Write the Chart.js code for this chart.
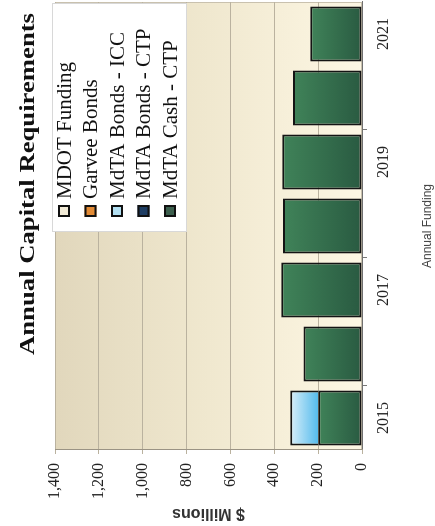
<!DOCTYPE html>
<html>
<head>
<meta charset="utf-8">
<script src="https://cdn.jsdelivr.net/npm/chart.js@4.4.1/dist/chart.umd.min.js"></script>
<style>
  html, body { margin: 0; padding: 0; background: #fff; overflow: hidden; }
  /* the original chart is printed sideways, so the whole canvas is turned a quarter left */
  #wrap {
    position: absolute; left: 0; top: 0;
    width: 526px; height: 435px;
    transform-origin: 0 0;
    transform: translateY(526px) rotate(-90deg);
  }
</style>
</head>
<body>
<div id="wrap"><canvas id="capital-chart" width="526" height="435"></canvas></div>
<script>
// Data ($ millions)
const years = ['2015', '2016', '2017', '2018', '2019', '2020', '2021'];
const mdotFunding  = [0, 0, 0, 0, 0, 0, 0];
const garveeBonds  = [0, 0, 0, 0, 0, 0, 0];
const mdtaBondsIcc = [127, 0, 0, 0, 0, 0, 0];
const mdtaBondsCtp = [0, 0, 0, 0, 0, 0, 0];
const mdtaCashCtp  = [200, 267, 368, 360, 364, 315, 236];
const valueTicks   = [0, 200, 400, 600, 800, 1000, 1200, 1400];

const serif = '"Liberation Serif", "Times New Roman", serif';
const sans = '"Liberation Sans", Arial, sans-serif';

// per-bar gradient, light at the top of the segment and darker at its base
function barFill(light, dark) {
  return (c) => {
    const chart = c.chart;
    const yScale = chart.scales.y;
    if (c.type !== 'data' || !yScale || !chart.chartArea) return dark;
    let base = 0;
    for (let d = 0; d < c.datasetIndex; d++) {
      base += chart.data.datasets[d].data[c.dataIndex] || 0;
    }
    const val = chart.data.datasets[c.datasetIndex].data[c.dataIndex] || 0;
    const y0 = yScale.getPixelForValue(base);
    const y1 = yScale.getPixelForValue(base + val);
    if (!isFinite(y0) || !isFinite(y1) || y0 === y1) return dark;
    const g = chart.ctx.createLinearGradient(0, y1, 0, y0);
    g.addColorStop(0, light);
    g.addColorStop(1, dark);
    return g;
  };
}

const plotBackground = {
  id: 'plotBackground',
  beforeDraw(chart) {
    const { ctx, chartArea: a } = chart;
    const g = ctx.createLinearGradient(0, a.top, 0, a.bottom);
    g.addColorStop(0, '#e1d7bc');
    g.addColorStop(0.5, '#f0e8cf');
    g.addColorStop(1, '#fdf7e4');
    ctx.save();
    ctx.fillStyle = g;
    ctx.fillRect(a.left, a.top, a.width, a.height);
    ctx.strokeStyle = '#c9c1ae';
    ctx.lineWidth = 1;
    ctx.strokeRect(a.left + 0.5, a.top + 0.5, a.width - 1, a.height - 1);
    ctx.restore();
  }
};

// boxed legend sitting inside the plot, series listed top of stack first
const boxLegend = {
  id: 'boxLegend',
  afterDraw(chart) {
    const { ctx, chartArea: a } = chart;
    const left = a.right - 230, top = a.top - 3, w = 229, h = 135;
    ctx.save();
    ctx.fillStyle = '#ffffff';
    ctx.fillRect(left, top, w, h);
    ctx.strokeStyle = '#d8d8d8';
    ctx.lineWidth = 1;
    ctx.strokeRect(left + 0.5, top + 0.5, w - 1, h - 1);
    const items = chart.data.datasets.slice().reverse();
    ctx.font = '21px ' + serif;
    ctx.textBaseline = 'middle';
    ctx.textAlign = 'left';
    items.forEach((ds, i) => {
      const cy = top + 12 + i * 26.5;
      ctx.fillStyle = ds.legendColor;
      ctx.fillRect(left + 15, cy - 6, 12, 12);
      ctx.strokeStyle = '#111';
      ctx.lineWidth = 2;
      ctx.strokeRect(left + 16, cy - 5, 10, 10);
      ctx.fillStyle = '#111';
      ctx.fillText(ds.label, left + 33, cy + 1);
    });
    ctx.restore();
  }
};

const chartTitle = {
  id: 'chartTitle',
  afterDraw(chart) {
    const ctx = chart.ctx;
    const text = 'Annual Capital Requirements';
    ctx.save();
    ctx.font = 'bold 22px ' + serif;
    const w = ctx.measureText(text).width;
    ctx.translate(342, 28);
    ctx.scale(342 / w, 1);
    ctx.fillStyle = '#111';
    ctx.textAlign = 'center';
    ctx.textBaseline = 'middle';
    ctx.fillText(text, 0, 0);
    ctx.restore();
  }
};

const ctx = document.getElementById('capital-chart').getContext('2d');
new Chart(ctx, {
  type: 'bar',
  data: {
    labels: years,
    datasets: [
      {
        label: 'MdTA Cash - CTP',
        data: mdtaCashCtp,
        backgroundColor: barFill('#408359', '#295a41'),
        legendColor: '#3c5f4d',
        borderWidth: 2
      },
      {
        label: 'MdTA Bonds - CTP',
        data: mdtaBondsCtp,
        backgroundColor: '#1e3d63',
        legendColor: '#1e3d63',
        borderWidth: { top: 2, left: 2, right: 2, bottom: 0 }
      },
      {
        label: 'MdTA Bonds - ICC',
        data: mdtaBondsIcc,
        backgroundColor: barFill('#d9eff9', '#55bbed'),
        legendColor: '#b3e0f2',
        borderWidth: { top: 2, left: 2, right: 2, bottom: 0 }
      },
      {
        label: 'Garvee Bonds',
        data: garveeBonds,
        backgroundColor: '#e38b35',
        legendColor: '#e38b35',
        borderWidth: { top: 2, left: 2, right: 2, bottom: 0 }
      },
      {
        label: 'MDOT Funding',
        data: mdotFunding,
        backgroundColor: '#f1ead6',
        legendColor: '#f1ead6',
        borderWidth: { top: 2, left: 2, right: 2, bottom: 0 }
      }
    ]
  },
  options: {
    responsive: false,
    animation: false,
    devicePixelRatio: 1,
    layout: { padding: { top: 55, right: 2, left: 0, bottom: 0 } },
    datasets: {
      bar: {
        borderColor: '#141414',
        borderSkipped: false,
        categoryPercentage: 1,
        barPercentage: 0.86
      }
    },
    plugins: {
      legend: { display: false },
      title: { display: false },
      tooltip: { enabled: false }
    },
    scales: {
      x: {
        stacked: true,
        grid: {
          drawOnChartArea: false,
          tickLength: 5,
          color: (c) => (c.index % 2 === 1 ? '#777' : 'rgba(0,0,0,0)')
        },
        border: { color: '#707070' },
        ticks: {
          autoSkip: false,
          maxRotation: 0,
          padding: 7,
          color: '#222',
          font: { family: serif, size: 16 },
          callback: (v, i) => (i % 2 === 0 ? years[i] : '')
        },
        title: {
          display: true,
          text: 'Annual Funding',
          color: '#444',
          font: { family: sans, size: 12 },
          padding: { top: 0, bottom: 0 }
        },
        afterFit: (s) => { s.height = 73; }
      },
      y: {
        stacked: true,
        min: valueTicks[0],
        max: valueTicks[valueTicks.length - 1],
        afterBuildTicks: (s) => { s.ticks = valueTicks.map((v) => ({ value: v })); },
        grid: { color: '#bab29f', tickLength: 4 },
        border: { color: '#9a9384' },
        ticks: {
          padding: 9,
          color: '#222',
          font: { family: serif, size: 16 }
        },
        title: {
          display: true,
          text: '$ Millions',
          color: '#333',
          font: { family: sans, size: 16, weight: 'bold' },
          padding: { top: 3, bottom: 0 }
        },
        afterFit: (s) => { s.width = 76; }
      }
    }
  },
  plugins: [plotBackground, boxLegend, chartTitle]
});
</script>
</body>
</html>
